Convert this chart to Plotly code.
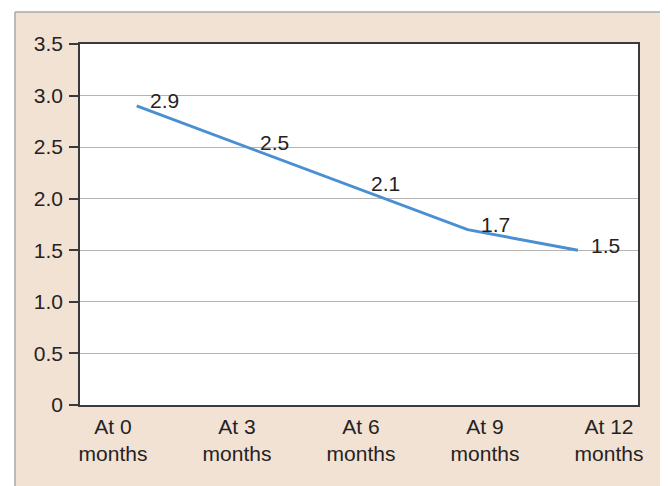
import plotly.graph_objects as go

categories = ["At 0 months", "At 3 months", "At 6 months", "At 9 months", "At 12 months"]
tick_labels = ["At 0<br>months", "At 3<br>months", "At 6<br>months", "At 9<br>months", "At 12<br>months"]
values = [2.9, 2.5, 2.1, 1.7, 1.5]
value_labels = ["2.9", "2.5", "2.1", "1.7", "1.5"]
y_ticks = [0, 0.5, 1.0, 1.5, 2.0, 2.5, 3.0, 3.5]
y_tick_text = ["0", "0.5", "1.0", "1.5", "2.0", "2.5", "3.0", "3.5"]

FONT = "Liberation Sans, Arial, sans-serif"
TXT = "#262223"
BEIGE = "#f1e2d4"
FS = 21

fig = go.Figure()
fig.add_trace(go.Scatter(
    x=categories, y=values, mode="lines",
    line=dict(color="#4a8fd2", width=3),
    hoverinfo="skip", showlegend=False,
))
# invisible helper trace so the label axis renders
fig.add_trace(go.Scatter(
    x=list(range(len(categories))), y=values, mode="markers",
    marker=dict(opacity=0), xaxis="x2", hoverinfo="skip", showlegend=False,
))

for c, v, t in zip(categories, values, value_labels):
    fig.add_annotation(x=c, y=v, xref="x", yref="y", text=t, showarrow=False,
                       xanchor="center", yanchor="middle", xshift=28, yshift=5,
                       font=dict(family=FONT, size=FS, color=TXT))

fig.update_layout(
    width=660, height=478,
    margin=dict(l=72, r=30, t=36, b=81),
    paper_bgcolor=BEIGE, plot_bgcolor="white",
    font=dict(family=FONT, size=FS, color=TXT),
    xaxis=dict(type="category", range=[-0.514, 4.545], showticklabels=False,
               showgrid=False, showline=True, linecolor="#3a3a3a", linewidth=1.5,
               mirror=True, ticks="", zeroline=False),
    xaxis2=dict(type="linear", overlaying="x", side="bottom", range=[-0.266, 4.234],
                tickvals=list(range(len(tick_labels))), ticktext=tick_labels,
                showgrid=False, showline=False, ticks="", zeroline=False,
                ticklabelstandoff=7,
                tickfont=dict(family=FONT, size=FS, color=TXT)),
    yaxis=dict(range=[0, 3.5], tickvals=y_ticks, ticktext=y_tick_text,
               showgrid=True, gridcolor="#b4b4b4", gridwidth=1,
               showline=True, linecolor="#3a3a3a", linewidth=1.5, mirror=True,
               ticks="outside", ticklen=9, tickcolor="#3a3a3a", tickwidth=1.5,
               ticklabelstandoff=2,
               zeroline=False, tickfont=dict(family=FONT, size=FS, color=TXT)),
)

# white strips outside the beige panel and its grey border
fig.add_shape(type="rect", xref="paper", yref="paper", x0=-0.3, x1=1.2, y0=1.0886, y1=1.3,
              fillcolor="white", line=dict(width=0), layer="below")
fig.add_shape(type="rect", xref="paper", yref="paper", x0=-0.3, x1=-0.1165, y0=-0.4, y1=1.3,
              fillcolor="white", line=dict(width=0), layer="below")
fig.add_shape(type="line", xref="paper", yref="paper", x0=-0.1165, x1=1.2, y0=1.0886, y1=1.0886,
              line=dict(color="#a8a8a8", width=1.5), layer="below")
fig.add_shape(type="line", xref="paper", yref="paper", x0=-0.1165, x1=-0.1165, y0=-0.4, y1=1.0886,
              line=dict(color="#a8a8a8", width=1.5), layer="below")

fig.write_html("out.html")
